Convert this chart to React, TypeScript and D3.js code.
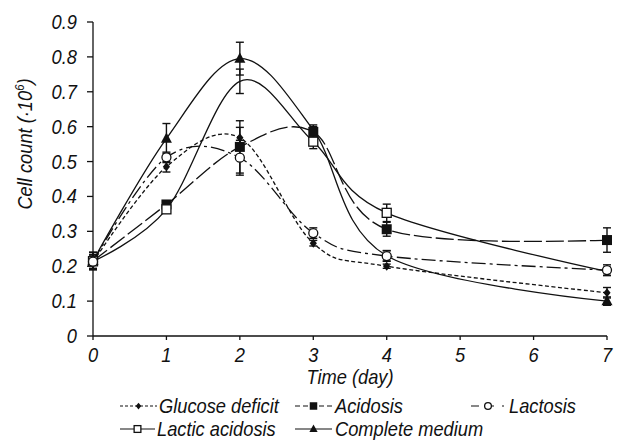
import React, { useEffect, useRef } from 'react';
import * as d3 from 'd3';

// days sampled
const days = [0, 1, 2, 3, 4, 7];
const xTicks = [0, 1, 2, 3, 4, 5, 6, 7];
const yTicks = [0, 0.1, 0.2, 0.3, 0.4, 0.5, 0.6, 0.7, 0.8, 0.9];

// cell counts (·10^6) and error bars
const glucose = [0.212, 0.485, 0.568, 0.266, 0.2, 0.124];
const glucoseErr = [0.02, 0.015, 0.03, 0.008, 0.006, 0.015];
const acidosis = [0.215, 0.377, 0.542, 0.585, 0.306, 0.275];
const acidosisErr = [0.025, 0.008, 0.075, 0.015, 0.02, 0.035];
const lactosis = [0.213, 0.512, 0.511, 0.295, 0.229, 0.189];
const lactosisErr = [0.02, 0.015, 0.05, 0.015, 0.015, 0.015];
const lacticAcidosis = [0.214, 0.363, 0.73, 0.557, 0.353, 0.185];
const lacticErr = [0.02, 0.008, 0.035, 0.02, 0.025, 0.012];
const complete = [0.215, 0.566, 0.795, 0.59, 0.23, 0.1];
const completeErr = [0.025, 0.043, 0.047, 0.015, 0.015, 0.012];
// markers that are covered by other points in the original figure
const lacticMarked = [true, true, false, true, true, false];
const completeMarked = [true, true, true, false, false, true];

const seriesNames = ['Glucose deficit', 'Acidosis', 'Lactosis', 'Lactic acidosis', 'Complete medium'];

const INK = '#111';
const FONT = '"Liberation Sans", Arial, sans-serif';

function drawMarker(g: any, kind: string, x: number, y: number, s: number) {
  if (kind === 'diamond') {
    g.append('path')
      .attr('d', `M${x},${y - s}L${x + s * 0.8},${y}L${x},${y + s}L${x - s * 0.8},${y}Z`)
      .attr('fill', INK);
  } else if (kind === 'square') {
    g.append('rect').attr('x', x - s).attr('y', y - s).attr('width', 2 * s).attr('height', 2 * s).attr('fill', INK);
  } else if (kind === 'circle') {
    g.append('circle').attr('cx', x).attr('cy', y).attr('r', s * 0.9)
      .attr('fill', '#fff').attr('stroke', INK).attr('stroke-width', 1.3);
  } else if (kind === 'osquare') {
    g.append('rect').attr('x', x - s * 0.9).attr('y', y - s * 0.9).attr('width', 1.8 * s).attr('height', 1.8 * s)
      .attr('fill', '#fff').attr('stroke', INK).attr('stroke-width', 1.3);
  } else if (kind === 'triangle') {
    g.append('path')
      .attr('d', `M${x},${y - s * 1.1}L${x + s},${y + s * 0.75}L${x - s},${y + s * 0.75}Z`)
      .attr('fill', INK);
  }
}

function label(svg: any, x: number, y: number, txt: string, anchor = 'start', rotate = 0) {
  const g = svg.append('g').attr('transform', `translate(${x},${y}) rotate(${rotate})`);
  const t = g.append('text')
    .attr('transform', 'scale(0.87,1)')
    .attr('text-anchor', anchor)
    .attr('font-family', FONT)
    .attr('font-style', 'italic')
    .attr('font-size', 21)
    .attr('fill', INK)
    .text(txt);
  return t;
}

export default function App() {
  const ref = useRef<SVGSVGElement>(null);

  useEffect(() => {
    const svg = d3.select(ref.current);
    svg.selectAll('*').remove();

    const x = d3.scaleLinear().domain([0, 7]).range([93, 607]);
    const y = d3.scaleLinear().domain([0, 0.9]).range([336, 22]);

    const series = [
      { name: seriesNames[0], vals: glucose, err: glucoseErr, dash: '4,2.5', marker: 'diamond', ms: 4.5, show: null },
      { name: seriesNames[1], vals: acidosis, err: acidosisErr, dash: '18,4', marker: 'square', ms: 5, show: null },
      { name: seriesNames[2], vals: lactosis, err: lactosisErr, dash: '14,4,3,4', marker: 'circle', ms: 5, show: null },
      { name: seriesNames[3], vals: lacticAcidosis, err: lacticErr, dash: null, marker: 'osquare', ms: 5, show: lacticMarked },
      { name: seriesNames[4], vals: complete, err: completeErr, dash: null, marker: 'triangle', ms: 5.5, show: completeMarked },
    ];

    // axes
    const ax = svg.append('g').attr('stroke', INK).attr('stroke-width', 1.3);
    ax.append('line').attr('x1', x(0)).attr('x2', x(0)).attr('y1', y(0)).attr('y2', y(0.9));
    ax.append('line').attr('x1', x(0)).attr('x2', x(7)).attr('y1', y(0)).attr('y2', y(0));
    yTicks.forEach(v => {
      ax.append('line').attr('x1', x(0) - 6).attr('x2', x(0)).attr('y1', y(v)).attr('y2', y(v));
      label(svg, 77, y(v) + 7, String(v), 'end');
    });
    xTicks.forEach(v => {
      ax.append('line').attr('x1', x(v)).attr('x2', x(v)).attr('y1', y(0)).attr('y2', y(0) + 4);
      label(svg, x(v), 362, String(v), 'middle');
    });

    label(svg, 350, 384, 'Time (day)', 'middle');
    const yl = label(svg, 32, 144, 'Cell count (·10', 'middle', -90);
    yl.append('tspan').attr('dy', -8).attr('font-size', 13).text('6');
    yl.append('tspan').attr('dy', 8).text(')');

    // curves
    const line = d3.line<number>()
      .x((d, i) => x(days[i]))
      .y(d => y(d))
      .curve(d3.curveCardinal.tension(0));

    const plot = svg.append('g');
    series.forEach(s => {
      plot.append('path')
        .attr('d', line(s.vals))
        .attr('fill', 'none')
        .attr('stroke', INK)
        .attr('stroke-width', 1.3)
        .attr('stroke-dasharray', s.dash);
    });

    // error bars
    const eb = svg.append('g').attr('stroke', INK).attr('stroke-width', 1.4);
    series.forEach(s => {
      s.vals.forEach((v, i) => {
        const cx = x(days[i]);
        const y1 = y(v - s.err[i]);
        const y2 = y(v + s.err[i]);
        eb.append('line').attr('x1', cx).attr('x2', cx).attr('y1', y1).attr('y2', y2);
        eb.append('line').attr('x1', cx - 4).attr('x2', cx + 4).attr('y1', y1).attr('y2', y1);
        eb.append('line').attr('x1', cx - 4).attr('x2', cx + 4).attr('y1', y2).attr('y2', y2);
      });
    });

    // markers
    const mk = svg.append('g');
    [4, 0, 1, 3, 2].forEach(k => {
      const s = series[k];
      s.vals.forEach((v, i) => {
        if (s.show && !s.show[i]) return;
        drawMarker(mk, s.marker, x(days[i]), y(v), s.ms);
      });
    });

    // legend
    const legend = [
      { k: 0, x0: 120, x1: 157, tx: 159, ty: 413, dash: '3,2', mx: 138.5 },
      { k: 1, x0: 295, x1: 332, tx: 335, ty: 413, dash: '5,3', mx: 313.5 },
      { k: 2, x0: 471, x1: 507, tx: 509, ty: 413, dash: '8,5,10,8,2,10', mx: 488 },
      { k: 3, x0: 120, x1: 155, tx: 157, ty: 436, dash: null, mx: 137.5 },
      { k: 4, x0: 295, x1: 332, tx: 335, ty: 436, dash: null, mx: 313.5 },
    ];
    const lg = svg.append('g');
    legend.forEach(l => {
      const s = series[l.k];
      const ly = l.ty - 7;
      lg.append('line').attr('x1', l.x0).attr('x2', l.x1).attr('y1', ly).attr('y2', ly)
        .attr('stroke', INK).attr('stroke-width', 1.2).attr('stroke-dasharray', l.dash);
      drawMarker(lg, s.marker, l.mx, ly, s.ms * 0.75);
      label(svg, l.tx, l.ty, s.name);
    });
  }, []);

  return (
    <svg ref={ref} width={621} height={440}
      style={{ position: 'absolute', left: 0, top: 0, background: '#fff' }} />
  );
}
